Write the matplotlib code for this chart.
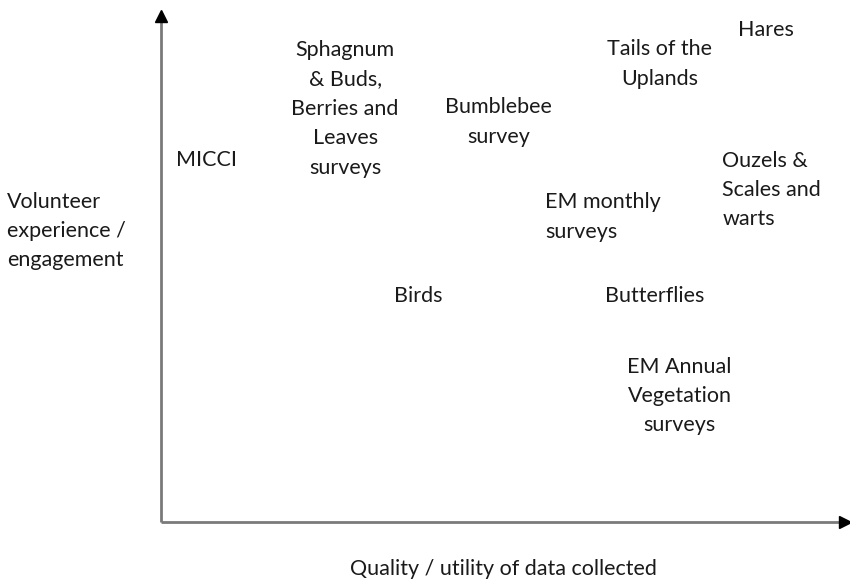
import matplotlib
matplotlib.use("Agg")
import matplotlib.pyplot as plt

plt.rcParams['font.family'] = ['Lato', 'DejaVu Sans']

# Survey labels positioned by (quality/utility, volunteer engagement) on a 0-10 scale
labels = ["MICCI",
          "Sphagnum\n& Buds,\nBerries and\nLeaves\nsurveys",
          "Bumblebee\nsurvey",
          "Tails of the\nUplands",
          "Hares",
          "Ouzels &\nScales and\nwarts",
          "EM monthly\nsurveys",
          "Birds",
          "Butterflies",
          "EM Annual\nVegetation\nsurveys"]
quality = [0.66, 2.68, 4.91, 7.26, 8.81, 8.17, 5.59, 3.74, 7.19, 7.55]
engagement = [7.10, 8.10, 7.84, 8.98, 9.65, 6.51, 5.98, 4.43, 4.43, 2.47]
align = ["center", "center", "center", "center", "center",
         "left", "left", "center", "center", "center"]

x_title = "Quality / utility of data collected"
y_title = "Volunteer\nexperience /\nengagement"

W, H = 850, 585
fig = plt.figure(figsize=(W / 100, H / 100), dpi=100)
ax = fig.add_axes([161 / W, (H - 522) / H, (848 - 161) / W, (522 - 12) / H])
ax.set_xlim(0, 10)
ax.set_ylim(0, 10)
ax.axis('off')

txt_color = '#1a1a1a'
line_color = '#7a7a7a'
fs = 15.5
ls = 1.59

# axes lines with arrowheads
ax.plot([0, 0], [0, 9.9], color=line_color, lw=2, clip_on=False, solid_capstyle='butt')
ax.plot([0, 9.93], [0, 0], color=line_color, lw=2, clip_on=False, solid_capstyle='butt')
ax.plot([0], [9.92], marker='^', color='black', markersize=8, clip_on=False)
ax.plot([9.95], [0], marker='>', color='black', markersize=8, clip_on=False)

for lab, xq, ye, ha in zip(labels, quality, engagement, align):
    ax.text(xq, ye, lab, ha=ha, va='center', multialignment=ha,
            fontsize=fs, color=txt_color, linespacing=ls)

fig.text(7 / W, 1 - 231 / H, y_title, ha='left', va='center',
         fontsize=fs, color=txt_color, linespacing=ls)
fig.text(503 / W, 1 - 569 / H, x_title, ha='center', va='center',
         fontsize=fs, color=txt_color)

fig.savefig("out.png", dpi=100)
